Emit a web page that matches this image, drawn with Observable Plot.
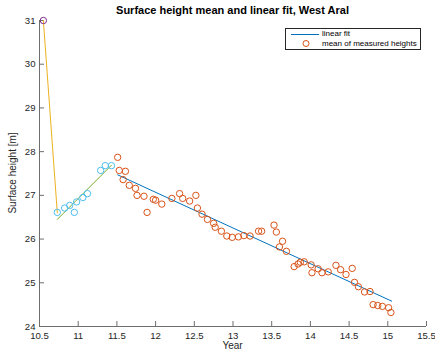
<!DOCTYPE html>
<html><head><meta charset="utf-8">
<script src="https://cdn.jsdelivr.net/npm/d3@7"></script>
<script src="https://cdn.jsdelivr.net/npm/@observablehq/plot@0.6"></script>
<style>
body{margin:0;background:#fff;font-family:"Liberation Sans",Arial,Helvetica,sans-serif;}
#wrap{position:relative;width:435px;height:354px;overflow:hidden;}
#title{position:absolute;left:39px;width:387px;top:3px;text-align:center;font-weight:bold;font-size:11px;line-height:14px;color:#000;}
#xlab{position:absolute;left:39px;width:387px;top:340px;text-align:center;font-size:10px;line-height:12px;color:#262626;}
#ylab{position:absolute;left:13px;top:173px;transform:translate(-50%,-50%) rotate(-90deg);white-space:nowrap;font-size:10px;line-height:12px;color:#262626;}
#legend{position:absolute;left:285px;top:28px;width:134px;height:20px;border:1px solid #262626;background:#fff;font-size:8px;color:#000;}
#legend svg{position:absolute;left:0;top:0;}
.lt{position:absolute;left:36px;font-size:8px;line-height:10px;}
</style>
</head><body>
<div id="wrap">
<div id="chart"></div>
<div id="title">Surface height mean and linear fit, West Aral</div>
<div id="xlab">Year</div>
<div id="ylab">Surface height [m]</div>
<div id="legend">
<svg width="134" height="20"><line x1="5" y1="5.5" x2="33" y2="5.5" stroke="#0072BD" stroke-width="1"/><circle cx="20" cy="14.5" r="3" fill="none" stroke="#D95319" stroke-width="1"/></svg>
<div class="lt" style="top:0px">linear fit</div>
<div class="lt" style="top:9.5px">mean of measured heights</div>
</div>
</div>
<script>
// ---- data ----
const xTicks = [10.5, 11, 11.5, 12, 12.5, 13, 13.5, 14, 14.5, 15, 15.5];
const yTicks = [24, 25, 26, 27, 28, 29, 30, 31];

const purpleX = [10.55];
const purpleY = [31.0];

const fitAX = [10.55, 10.73];
const fitAY = [31.0, 26.6];

const cyanX = [10.73, 10.825, 10.89, 10.95, 10.98, 11.06, 11.12, 11.29, 11.35, 11.43];
const cyanY = [26.61, 26.71, 26.77, 26.61, 26.85, 26.95, 27.04, 27.57, 27.68, 27.68];

const fitBX = [10.73, 11.43];
const fitBY = [26.45, 27.69];

const orangeX = [11.51, 11.53, 11.58, 11.61, 11.66, 11.74, 11.76, 11.85, 11.89, 11.97,
  12.00, 12.08, 12.21, 12.31, 12.35, 12.44, 12.52, 12.54, 12.60, 12.67,
  12.75, 12.77, 12.85, 12.92, 12.99, 13.07, 13.14, 13.22, 13.33, 13.37,
  13.53, 13.56, 13.60, 13.64, 13.69, 13.79, 13.84, 13.87, 13.92, 14.01,
  14.02, 14.10, 14.15, 14.23, 14.33, 14.39, 14.46, 14.54, 14.57, 14.62,
  14.70, 14.77, 14.81, 14.87, 14.93, 15.01, 15.04];
const orangeY = [27.87, 27.57, 27.36, 27.55, 27.23, 27.16, 27.00, 26.98, 26.61, 26.91,
  26.89, 26.80, 26.93, 27.04, 26.93, 26.87, 27.00, 26.71, 26.57, 26.45,
  26.36, 26.27, 26.18, 26.07, 26.04, 26.05, 26.08, 26.07, 26.18, 26.18,
  26.32, 26.16, 25.82, 25.95, 25.72, 25.37, 25.43, 25.47, 25.48, 25.41,
  25.23, 25.32, 25.23, 25.25, 25.40, 25.30, 25.19, 25.33, 25.01, 24.91,
  24.79, 24.80, 24.50, 24.48, 24.46, 24.43, 24.32];

const fitCX = [11.51, 15.05];
const fitCY = [27.47, 24.58];

// ---- build tables ----
const zip = (xs, ys) => xs.map((x, i) => ({x, y: ys[i]}));
const purple = zip(purpleX, purpleY);
const fitA = zip(fitAX, fitAY);
const cyan = zip(cyanX, cyanY);
const fitB = zip(fitBX, fitBY);
const orange = zip(orangeX, orangeY);
const fitC = zip(fitCX, fitCY);

const axisColor = "#262626";
const lineColor = "#6e6e6e";
const xDom = [10.5, 15.5], yDom = [24, 31];
const R = 3.2;

const chart = Plot.plot({
  width: 435,
  height: 354,
  marginLeft: 39,
  marginRight: 9,
  marginTop: 20,
  marginBottom: 28,
  style: {fontFamily: '"Liberation Sans", Arial, Helvetica, sans-serif', fontSize: "9.6px", background: "#fff", color: axisColor},
  x: {type: "linear", domain: xDom, label: null},
  y: {type: "linear", domain: yDom, label: null},
  marks: [
    // axis lines
    Plot.ruleY([yDom[0]], {stroke: lineColor, strokeWidth: 1}),
    Plot.ruleX([xDom[0]], {stroke: lineColor, strokeWidth: 1}),
    // inward ticks
    Plot.ruleX(xTicks, {x: d => d, y1: yDom[0], y2: yDom[0], insetBottom: 5, stroke: lineColor, strokeWidth: 1}),
    Plot.ruleY(yTicks, {y: d => d, x1: xDom[0], x2: xDom[0], insetRight: -5, stroke: lineColor, strokeWidth: 1}),
    Plot.axisX({ticks: xTicks, tickSize: 0, tickPadding: 6, tickFormat: d => String(d), label: null, fill: axisColor}),
    Plot.axisY({ticks: yTicks, tickSize: 0, tickPadding: 4, tickFormat: d => String(d), label: null, fill: axisColor}),
    // fit lines
    Plot.line(fitA, {x: "x", y: "y", stroke: "#EDB120", strokeWidth: 1}),
    Plot.line(fitB, {x: "x", y: "y", stroke: "#77AC30", strokeWidth: 1}),
    Plot.line(fitC, {x: "x", y: "y", stroke: "#0072BD", strokeWidth: 1}),
    // points
    Plot.dot(purple, {x: "x", y: "y", r: R, stroke: "#7E2F8E", strokeWidth: 1, fill: "none"}),
    Plot.dot(cyan, {x: "x", y: "y", r: R, stroke: "#4DBEEE", strokeWidth: 1, fill: "none"}),
    Plot.dot(orange, {x: "x", y: "y", r: R, stroke: "#D95319", strokeWidth: 1, fill: "none"})
  ]
});
document.getElementById("chart").appendChild(chart);
</script>
</body></html>
